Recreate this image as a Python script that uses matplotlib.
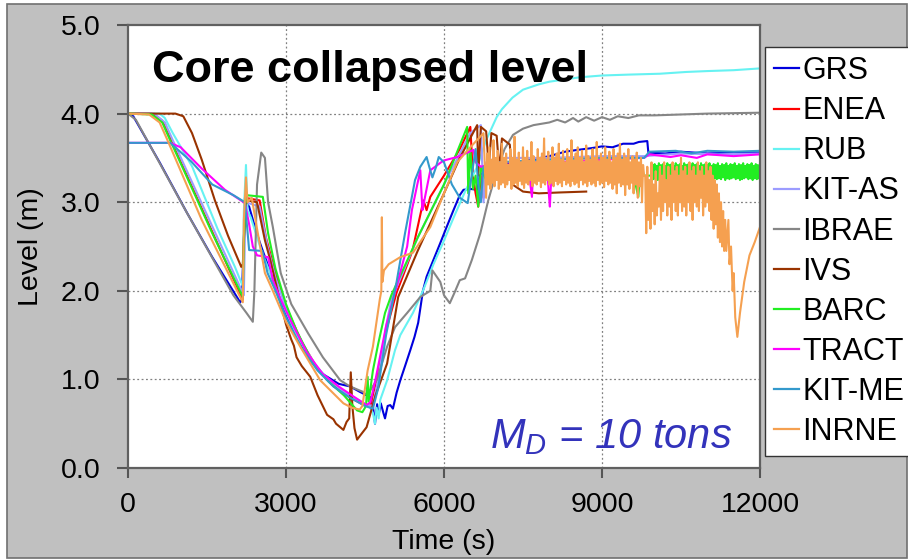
import matplotlib
matplotlib.use("Agg")
import matplotlib.pyplot as plt
from matplotlib.patches import Rectangle

plt.rcParams['font.family'] = ['Liberation Sans', 'DejaVu Sans']
plt.rcParams['mathtext.fontset'] = 'custom'
plt.rcParams['mathtext.it'] = 'Liberation Sans:italic'
plt.rcParams['mathtext.rm'] = 'Liberation Sans'

# ---------------- data (time s, level m) ----------------
NAMES = ["GRS", "ENEA", "RUB", "KIT-AS", "IBRAE", "IVS", "BARC", "TRACT", "KIT-ME", "INRNE"]
COLORS = ["#0000dd", "#ff0000", "#66f2f2", "#9c9cff", "#868686", "#993300",
          "#22ee22", "#ff00ff", "#3399cc", "#f5a050"]

GRS = [(0, 4.0), (100, 3.97), (600, 3.45), (1120, 2.88), (1600, 2.38), (2130, 1.87), (2160, 1.9),
       (2200, 2.6), (2230, 3.0), (2300, 2.95), (2410, 2.72), (2500, 2.55), (2650, 2.3), (2800, 2.05),
       (3000, 1.72), (3200, 1.47), (3450, 1.22), (3700, 1.06), (4000, 0.95), (4220, 0.92), (4400, 0.86),
       (4600, 0.8), (4650, 0.7), (4690, 0.5), (4730, 0.72), (4760, 0.6), (4800, 0.73), (4850, 0.62),
       (4880, 0.56), (4930, 0.7), (4980, 0.71), (5030, 0.67), (5100, 0.85), (5170, 0.99), (5260, 1.15),
       (5360, 1.33), (5440, 1.48), (5510, 1.64), (5600, 2.0), (5670, 2.16), (5800, 2.35), (5930, 2.54),
       (6050, 2.72), (6180, 2.91), (6300, 3.08), (6370, 3.14), (6500, 3.15), (6630, 3.14), (6680, 3.3),
       (6800, 3.38), (7000, 3.42), (7500, 3.46), (8000, 3.52), (8300, 3.57), (8530, 3.59), (8800, 3.61),
       (9000, 3.63), (9200, 3.62), (9400, 3.66), (9600, 3.66), (9700, 3.68), (9860, 3.69), (9880, 3.56),
       (10200, 3.55), (10500, 3.57), (11000, 3.55), (11500, 3.56), (12000, 3.56)]

ENEA = [(0, 4.0), (450, 4.0), (650, 3.92), (800, 3.72), (2180, 1.9), (2220, 3.05), (2500, 3.02),
        (2620, 2.6), (2800, 2.2), (3000, 1.82), (3300, 1.42), (3600, 1.12), (3900, 0.93), (4200, 0.8),
        (4450, 0.72), (4600, 0.7), (4700, 0.95), (4900, 1.55), (5100, 1.98), (5400, 2.45), (5610, 3.02),
        (5670, 2.91), (5740, 3.06), (6000, 3.3), (6300, 3.6), (6500, 3.85), (6550, 3.3), (6600, 3.1),
        (6650, 2.95), (6700, 3.3), (6750, 3.05), (6800, 3.2)]

RUB = [(0, 4.0), (600, 4.0), (700, 3.95), (850, 3.78), (1220, 3.4), (1700, 2.7), (2030, 2.27),
       (2180, 2.05), (2200, 2.9), (2240, 3.42), (2270, 2.9), (2330, 2.83), (2400, 2.7), (2550, 2.42),
       (2700, 2.2), (2900, 1.9), (3200, 1.5), (3500, 1.2), (3800, 1.0), (4100, 0.86), (4400, 0.76),
       (4590, 0.69), (4650, 0.62), (4690, 0.5), (4720, 0.68), (4760, 0.56), (4790, 0.77), (4920, 0.99),
       (5070, 1.33), (5170, 1.5), (5410, 1.75), (5600, 2.0), (5800, 2.3), (5980, 2.54), (6200, 2.85),
       (6400, 3.12), (6630, 3.4), (6800, 3.7), (7000, 3.96), (7100, 4.05), (7300, 4.18), (7500, 4.27),
       (7800, 4.33), (8000, 4.36), (8580, 4.41), (9000, 4.43), (9500, 4.44), (10100, 4.45),
       (10600, 4.47), (11000, 4.48), (11500, 4.49), (12000, 4.51)]

KIT_AS = [(0, 4.0), (500, 4.0), (700, 3.9), (850, 3.7), (2200, 1.95), (2230, 3.0), (2500, 2.95),
          (2650, 2.5), (2800, 2.15), (3000, 1.8), (3300, 1.42), (3600, 1.12), (3900, 0.95), (4200, 0.82),
          (4500, 0.72), (4650, 0.7), (4750, 1.0), (4900, 1.6), (5000, 1.9), (5500, 2.6), (6000, 3.2),
          (6500, 3.78), (6700, 3.87), (6750, 3.0), (6800, 3.45), (7000, 3.5), (8000, 3.5), (9000, 3.52),
          (9800, 3.52), (10500, 3.55), (11200, 3.54), (12000, 3.55)]

IBRAE = [(0, 4.0), (150, 3.93), (1100, 2.9), (2000, 1.95), (2250, 1.75), (2370, 1.65), (2400, 2.0),
         (2450, 3.2), (2530, 3.56), (2600, 3.5), (2660, 3.0), (2750, 2.72), (2900, 2.2), (3100, 1.85),
         (3420, 1.52), (3700, 1.25), (4030, 0.99), (4215, 0.92), (4460, 0.86), (4540, 0.82),
         (4730, 1.0), (4920, 1.37), (5070, 1.59), (5300, 1.75), (5550, 1.93), (5740, 2.0), (5780, 2.23),
         (5930, 2.1), (6000, 1.95), (6110, 1.86), (6200, 1.98), (6300, 2.12), (6400, 2.14), (6530, 2.35),
         (6690, 2.65), (6840, 3.02), (7000, 3.35), (7150, 3.6), (7310, 3.76), (7500, 3.83), (7700, 3.87),
         (8000, 3.9), (8150, 3.93), (8300, 3.9), (8450, 3.95), (8550, 3.91), (8700, 3.96), (8850, 3.92),
         (9000, 3.96), (9150, 3.93), (9300, 3.97), (9500, 3.95), (9700, 3.98), (10000, 3.98),
         (10500, 3.99), (11000, 4.0), (12000, 4.01)]

IVS = [(0, 4.0), (900, 4.0), (1050, 3.97), (1215, 3.78), (1400, 3.48), (1650, 3.02), (1900, 2.62),
       (2150, 2.27), (2180, 2.3), (2230, 2.95), (2260, 3.02), (2450, 3.0), (2520, 2.8), (2600, 2.57),
       (2700, 2.35), (2800, 2.1), (3000, 1.62), (3100, 1.45), (3150, 1.38), (3200, 1.25), (3300, 1.15),
       (3460, 1.03), (3600, 0.82), (3780, 0.6), (3900, 0.55), (3950, 0.5), (4090, 0.43), (4150, 0.52),
       (4200, 0.56), (4230, 1.08), (4260, 0.7), (4300, 0.45), (4350, 0.32), (4400, 0.36), (4530, 0.46),
       (4700, 0.82), (4920, 1.18), (5130, 1.93), (5500, 2.45), (6000, 3.1), (6300, 3.5), (6630, 3.87),
       (6650, 3.3), (6700, 3.85), (6800, 3.8), (6850, 3.4), (6900, 3.78), (7000, 3.75), (7050, 3.35),
       (7100, 3.72), (7250, 3.65), (7300, 3.2), (7500, 3.12), (7800, 3.1), (8200, 3.11), (8700, 3.12)]

BARC = [(0, 4.0), (450, 3.99), (650, 3.9), (800, 3.7), (1030, 3.4), (1600, 2.65), (2180, 1.93),
        (2200, 2.6), (2240, 3.08), (2400, 3.07), (2560, 3.06), (2660, 2.65), (2800, 2.25), (3000, 1.85),
        (3200, 1.55), (3500, 1.2), (3800, 0.98), (4100, 0.82), (4350, 0.65), (4450, 0.63), (4520, 0.7),
        (4550, 1.03), (4570, 0.75), (4650, 1.1), (4750, 1.4), (4880, 1.75), (5000, 1.95), (5500, 2.6),
        (6000, 3.2), (6440, 3.85), (6460, 3.1), (6500, 3.6), (6550, 3.15), (6600, 3.3), (6650, 2.95),
        (6700, 3.4), (6800, 3.25), (7000, 3.3), (8000, 3.28), (9000, 3.3), (9600, 3.3), (9690, 3.06),
        (9720, 3.3), (9940, 3.3)]
BARC_BAND = [3.42, 3.26, 3.43, 3.27, 3.41, 3.25, 3.44, 3.27, 3.42, 3.26,
             3.43, 3.28, 3.41, 3.26, 3.44, 3.27, 3.42, 3.25, 3.43, 3.27,
             3.41, 3.26, 3.44, 3.28, 3.42, 3.26, 3.43, 3.27, 3.41, 3.25,
             3.44, 3.27, 3.42, 3.26, 3.43, 3.28, 3.41, 3.26, 3.44, 3.27,
             3.42, 3.25, 3.43, 3.27, 3.41, 3.26, 3.44, 3.27, 3.42, 3.26,
             3.43, 3.27, 3.42, 3.26, 3.44, 3.28, 3.41, 3.25, 3.43, 3.27,
             3.42, 3.26, 3.44, 3.27, 3.41, 3.26, 3.43, 3.28, 3.42, 3.25,
             3.44, 3.27, 3.41, 3.26, 3.43, 3.27, 3.42, 3.28, 3.44, 3.26,
             3.41, 3.27, 3.43, 3.25, 3.42, 3.26, 3.44, 3.27, 3.41, 3.28,
             3.43, 3.26, 3.42, 3.27, 3.44, 3.25, 3.41, 3.27, 3.43, 3.26,
             3.42, 3.27]
BARC_BAND_T0, BARC_BAND_DT = 9960, 20

TRACT = [(0, 3.67), (800, 3.67), (1000, 3.62), (1400, 3.38), (1840, 3.14), (2220, 2.99), (2300, 2.75),
         (2370, 2.5), (2450, 2.4), (2660, 2.38), (2750, 2.12), (2900, 1.9), (3100, 1.65), (3400, 1.3),
         (3700, 1.06), (4000, 0.92), (4300, 0.8), (4530, 0.71), (4600, 0.74), (4700, 1.0), (4900, 1.6),
         (5100, 2.05), (5300, 2.5), (5390, 2.91), (5550, 3.36), (5590, 2.91), (5620, 3.0), (5740, 3.36),
         (5990, 3.47), (6250, 3.51), (6560, 3.59), (6600, 3.45), (6700, 3.4), (7000, 3.45), (7600, 3.45),
         (7640, 3.2), (7670, 3.06), (7700, 3.45), (7950, 3.45), (7990, 3.1), (8010, 2.95), (8050, 3.45),
         (9000, 3.48), (9800, 3.5), (9900, 3.54), (10300, 3.51), (10500, 3.53), (10800, 3.5),
         (11000, 3.54), (11500, 3.52), (12000, 3.54)]

KIT_ME = [(0, 3.67), (800, 3.67), (1200, 3.46), (1600, 3.2), (2000, 3.08), (2220, 3.0), (2300, 2.46),
          (2550, 2.45), (2650, 2.2), (2800, 2.0), (3000, 1.7), (3300, 1.35), (3600, 1.1), (3900, 0.92),
          (4200, 0.8), (4500, 0.7), (4650, 0.67), (4750, 0.9), (4900, 1.5), (5100, 2.1), (5260, 2.65),
          (5450, 3.25), (5550, 3.4), (5670, 3.51), (5720, 3.4), (5780, 3.28), (5850, 3.4), (5900, 3.51),
          (6000, 3.45), (6150, 3.2), (6300, 3.05), (6450, 2.99), (6500, 3.2), (6600, 3.6), (6650, 3.2),
          (6700, 3.0), (6750, 3.4), (7000, 3.45), (8000, 3.48), (9000, 3.5), (9800, 3.5), (9900, 3.57),
          (10400, 3.58), (10700, 3.55), (11000, 3.58), (11500, 3.57), (12000, 3.58)]

INRNE = [(0, 4.0), (400, 3.99), (600, 3.9), (750, 3.7), (1400, 2.8), (2180, 1.87), (2200, 2.8),
         (2240, 3.28), (2270, 3.0), (2350, 3.05), (2450, 2.7), (2600, 2.2), (2750, 2.0), (3000, 1.65),
         (3270, 1.37), (3650, 0.99), (4090, 0.73), (4250, 0.68), (4400, 0.66), (4450, 0.7),
         (4550, 1.1), (4650, 1.37), (4780, 1.9), (4810, 2.0), (4820, 2.83), (4830, 2.1), (4860, 2.23),
         (4950, 2.3), (5170, 2.38), (5410, 2.43), (5740, 2.72), (6000, 3.1), (6250, 3.45),
         (6500, 3.62), (6750, 3.78)]
INRNE_NOISE = [3.05, 3.55, 3.2, 3.62, 3.15, 3.48, 3.22, 3.7, 3.18, 3.5,
               3.25, 3.58, 3.15, 3.45, 3.2, 3.66, 3.22, 3.5, 3.17, 3.55,
               3.2, 3.42, 3.25, 3.6, 3.15, 3.5, 3.2, 3.74, 3.22, 3.48,
               3.18, 3.56, 3.24, 3.45, 3.2, 3.62, 3.16, 3.5, 3.22, 3.58,
               3.2, 3.47, 3.25, 3.68, 3.18, 3.52, 3.22, 3.45, 3.2, 3.6,
               3.24, 3.5, 3.17, 3.55, 3.22, 3.72, 3.2, 3.48, 3.25, 3.57,
               3.2, 3.46, 3.22, 3.62, 3.18, 3.5, 3.24, 3.55, 3.2, 3.66,
               3.22, 3.48, 3.18, 3.58, 3.25, 3.45, 3.2, 3.6, 3.22, 3.5,
               3.18, 3.7, 3.24, 3.47, 3.2, 3.55, 3.22, 3.62, 3.17, 3.5,
               3.25, 3.58, 3.2, 3.45, 3.22, 3.64, 3.18, 3.52, 3.24, 3.48,
               3.2, 3.6, 3.22, 3.5, 3.18, 3.68, 3.25, 3.46, 3.2, 3.55,
               3.22, 3.5, 3.17, 3.62, 3.24, 3.48, 3.2, 3.57, 3.22, 3.45,
               3.15, 3.6, 3.2, 3.5, 3.1, 3.55, 3.22, 3.66, 3.18, 3.48,
               3.2, 3.55, 3.08, 3.5, 3.2, 3.6, 3.15, 3.45, 3.22, 3.52,
               3.1, 3.48, 3.2, 3.56, 3.05, 3.45, 3.18, 3.5, 3.0, 3.42,
               3.3,
               3.3, 2.65, 3.4, 2.8, 3.25, 2.7, 3.45, 2.9, 3.2, 2.75,
               3.35, 2.85, 3.1, 2.95, 3.4, 2.8, 3.3, 2.9, 3.45, 3.0,
               3.25, 2.85, 3.4, 2.95, 3.3, 2.8, 3.45, 3.0, 3.35, 2.9,
               3.4, 2.85, 3.3, 3.0, 3.5, 2.9, 3.35, 2.95, 3.4, 2.85,
               3.3, 3.0, 3.45, 2.9, 3.35, 2.8, 3.4, 3.0, 3.3, 2.95,
               3.45, 2.9, 3.35, 3.05, 3.4, 2.85, 3.3, 2.95, 3.45, 3.0,
               3.35, 2.9, 3.4, 2.8, 3.3, 2.7, 3.25, 2.75, 3.2, 2.6,
               3.1, 2.55, 3.0, 2.5, 2.9, 2.45, 2.8]
INRNE_NOISE_T0, INRNE_NOISE_DT = 6800, 20
INRNE_END = [(11360, 2.45), (11400, 2.8), (11420, 2.3), (11450, 2.5), (11480, 2.0), (11500, 2.2),
             (11530, 1.7), (11570, 1.48), (11620, 1.75), (11700, 2.1), (11800, 2.4), (11900, 2.55),
             (12000, 2.72)]

X_TICKS = [0, 3000, 6000, 9000, 12000]
Y_TICKS = [0.0, 1.0, 2.0, 3.0, 4.0, 5.0]


def band(t0, dt, vals):
    return [(t0 + i * dt, v) for i, v in enumerate(vals)]


SERIES = [GRS, ENEA, RUB, KIT_AS, IBRAE, IVS,
          BARC + band(BARC_BAND_T0, BARC_BAND_DT, BARC_BAND),
          TRACT, KIT_ME,
          INRNE + band(INRNE_NOISE_T0, INRNE_NOISE_DT, INRNE_NOISE) + INRNE_END]

# ---------------- figure ----------------
fig = plt.figure(figsize=(9.08, 5.6), dpi=100, facecolor="white")
fig.patches.append(Rectangle((7 / 908, 2 / 560), 900 / 908, 554 / 560, transform=fig.transFigure,
                             facecolor="#c0c0c0", edgecolor="#707070", linewidth=1.2, zorder=-10))

ax = fig.add_axes([128 / 908, 92 / 560, 632 / 908, 443 / 560])
ax.set_facecolor("white")

for name, col, pts in zip(NAMES, COLORS, SERIES):
    ts = [p[0] for p in pts]
    ls = [p[1] for p in pts]
    ax.plot(ts, ls, color=col, lw=1.5, label=name, solid_joinstyle="round")

ax.set_xlim(0, 12000)
ax.set_ylim(0, 5)
ax.set_xticks(X_TICKS)
ax.set_xticklabels([str(v) for v in X_TICKS])
ax.set_yticks(Y_TICKS)
ax.set_yticklabels(["%.1f" % v for v in Y_TICKS])
ax.tick_params(axis="both", direction="out", labelsize=20.5, colors="#555555", labelcolor="black",
               width=1.5)
ax.tick_params(axis="y", length=8, pad=12)
ax.tick_params(axis="x", length=7, pad=10)
for s in ax.spines.values():
    s.set_color("#606060")
    s.set_linewidth(1.6)

for v in [1, 2, 3, 4]:
    ax.axhline(v, color="#808080", lw=0.9, ls=(0, (1.5, 2)), zorder=0)
for v in [3000, 6000, 9000]:
    ax.axvline(v, color="#808080", lw=0.9, ls=(0, (1.5, 2)), zorder=0)

ax.set_xlabel("Time (s)", fontsize=20.5, labelpad=8)
ax.set_ylabel("Level (m)", fontsize=20.5, labelpad=12)

ax.text(0.038, 4.36, "Core collapsed level", transform=ax.get_yaxis_transform(),
        fontsize=32.5, fontweight="bold", ha="left", va="baseline")
ax.text(0.573, 0.22, r"$M_D$ = 10 tons", transform=ax.get_yaxis_transform(),
        fontsize=30, style="italic", color="#3333bb", ha="left", va="baseline")

leg = fig.legend(loc="upper left", bbox_to_anchor=(765 / 908, 1 - 47 / 560), fontsize=22,
                 frameon=True, fancybox=False, edgecolor="#333333", framealpha=1,
                 handlelength=0.82, handletextpad=0.1, labelspacing=0.33, borderpad=0.3,
                 borderaxespad=0)
leg.get_frame().set_linewidth(1.0)
for l in leg.get_lines():
    l.set_linewidth(1.6)

fig.savefig("out.png", dpi=100, facecolor=fig.get_facecolor())
